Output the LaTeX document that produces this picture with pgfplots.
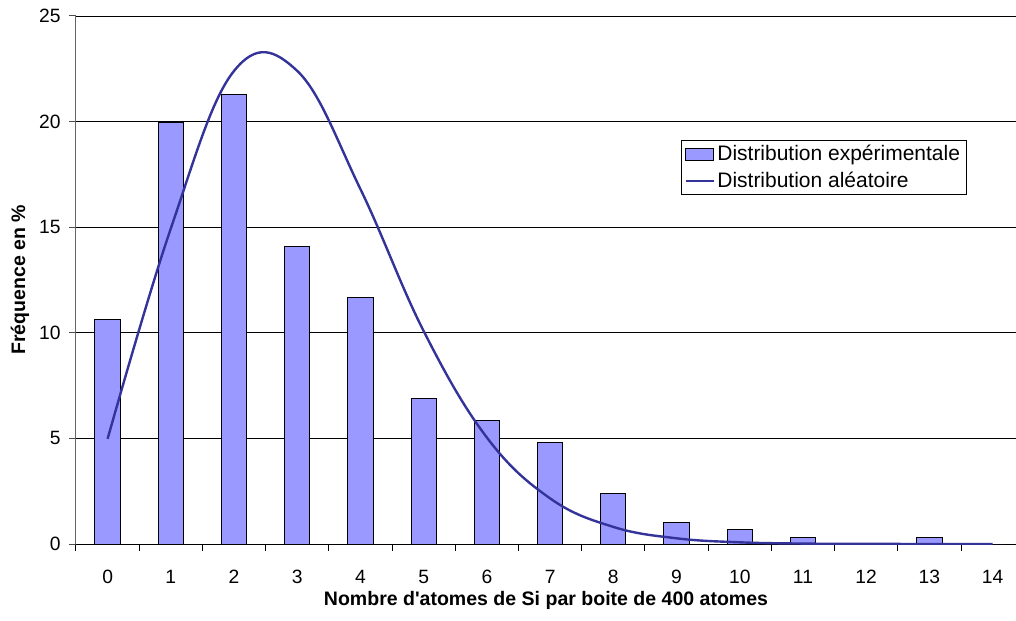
\documentclass[border=0pt]{standalone}
\usepackage{pgfplots}
\pgfplotsset{compat=1.18}
\usepackage{fontspec}
\setmainfont{Liberation Sans}
\newfontfamily\plainarial{Liberation Sans}
\definecolor{barfill}{HTML}{9999FF}
\definecolor{curve}{HTML}{333399}
\begin{document}
\begin{tikzpicture}[x=1bp,y=1bp]
\begin{axis}[
  scale only axis,
  width=705bp, height=396bp,
  xmin=-0.5, xmax=14.37, ymin=0, ymax=25,
  axis x line*=bottom, axis y line*=left,
  x axis line style={-,black,line width=0.75bp},
  y axis line style={-,black!60,line width=0.75bp},
  xtick={0,...,14},
  minor xtick={-0.5,0.5,...,13.5},
  major x tick style={draw=none},
  minor x tick style={black,line width=0.75bp},
  minor tick length=5bp,
  ytick={0,5,...,25},
  major y tick style={black!70,line width=0.75bp},
  major tick length=5bp,
  tick align=outside,
  ymajorgrids,
  grid style={black,line width=0.6bp},
  tick label style={font=\fontsize{14.5}{17}\selectfont},
  /pgf/number format/assume math mode=true,
  xticklabel style={yshift=-11bp},
  yticklabel style={xshift=-3bp},
  xlabel={\bfseries Nombre d{\plainarial\bfseries '}atomes de Si par boite de 400 atomes},
  ylabel={\bfseries Fréquence en \%},
  label style={font=\fontsize{14.7}{17}\selectfont},
  xlabel style={at={(axis description cs:0.5,0)},anchor=center,yshift=-42bp},
  ylabel style={at={(axis description cs:0,0.5)},anchor=center,yshift=42bp},
  legend style={at={(axis cs:9.07,19.13)},anchor=north west,draw=black,line width=0.6bp,
    font=\fontsize{15.8}{18}\selectfont,inner xsep=2.5bp,inner ysep=1.8bp,row sep=3bp,
    legend cell align=left},
  legend image code/.code={},
]
\addplot[ybar,bar width=0.4,fill=barfill,draw=black,line width=0.75bp,
  legend image code/.code={\draw[fill=barfill,draw=black,line width=0.6bp] (0bp,-4.5bp) rectangle (21bp,4.5bp);}]
  coordinates {(0,10.65) (1,19.95) (2,21.3) (3,14.1) (4,11.69) (5,6.87) (6,5.84) (7,4.82) (8,2.40) (9,1.02) (10,0.68) (11,0.33) (12,0) (13,0.33) (14,0)};
\addlegendentry{Distribution expérimentale}
\addplot[curve,line width=1.8bp,smooth,tension=0.65,
  legend image code/.code={\draw[curve,line width=1.5bp] (0bp,0bp) -- (21bp,0bp);}]
  coordinates {(0,4.98) (1,14.94) (2,22.40) (3,22.40) (4,16.80) (5,10.08) (6,5.04) (7,2.16) (8,0.81) (9,0.27) (10,0.08) (11,0.02) (12,0.006) (13,0.001) (14,0.0003)};
\addlegendentry{Distribution aléatoire}
\coordinate (O) at (axis cs:-0.5,0);
\end{axis}
\pgfresetboundingbox
\path[use as bounding box] (O) ++(-57bp,-57.75bp) rectangle ++(762bp,465.75bp);
\end{tikzpicture}
\end{document}
